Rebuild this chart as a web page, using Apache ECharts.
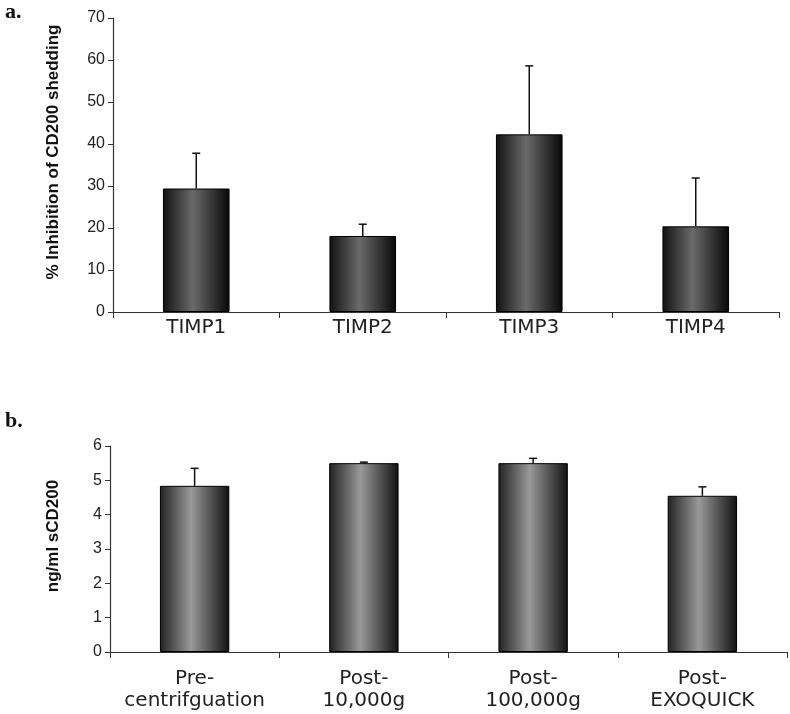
<!DOCTYPE html>
<html>
<head>
<meta charset="utf-8">
<script src="https://cdn.jsdelivr.net/npm/echarts@6/dist/echarts.min.js"></script>
<style>html,body{margin:0;padding:0;background:#fff}#c{width:790px;height:714px}</style>
</head>
<body>
<div id="c"></div>
<script>
var catsA = ['TIMP1', 'TIMP2', 'TIMP3', 'TIMP4'];
var valsA = [29.4, 18.1, 42.3, 20.4];
var errA = [8.4, 2.8, 16.3, 11.5];
var catsB = ['Pre-\ncentrifguation', 'Post-\n10,000g', 'Post-\n100,000g', 'Post-\nEXOQUICK'];
var valsB = [4.84, 5.5, 5.5, 4.55];
var errB = [0.51, 0.03, 0.14, 0.26];

var chart = echarts.init(document.getElementById('c'));

function errItem(params, api) {
  var x = api.value(0), v = api.value(1), e = api.value(2);
  var p0 = api.coord([x, v]);
  var p1 = api.coord([x, v + e]);
  var hw = 4;
  return {
    type: 'group',
    children: [
      {type: 'line', shape: {x1: p0[0], y1: p0[1], x2: p1[0], y2: p1[1]}, style: {stroke: '#111', lineWidth: 1.5}},
      {type: 'line', shape: {x1: p1[0] - hw, y1: p1[1], x2: p1[0] + hw, y2: p1[1]}, style: {stroke: '#111', lineWidth: 1.5}}
    ]
  };
}

function grad(c0, c1, c2) {
  return new echarts.graphic.LinearGradient(0, 0, 1, 0, [
    {offset: 0, color: c0}, {offset: 0.45, color: c1}, {offset: 1, color: c2}
  ]);
}

var axisLine = {show: true, lineStyle: {color: '#333', width: 1.2}};
var ylab = {color: '#222', fontFamily: 'Liberation Sans, Arial', fontSize: 16, margin: 8};
var nameStyle = {fontFamily: 'Liberation Sans, Arial', fontWeight: 'bold', fontSize: 17, color: '#111', padding: [0, 0, 0, 26]};

chart.setOption({
  animation: false,
  graphic: [
    {type: 'text', left: 5, top: 1, style: {text: 'a.', font: 'bold 22px "Liberation Serif", serif', fill: '#111'}},
    {type: 'text', left: 5, top: 410, style: {text: 'b.', font: 'bold 22px "Liberation Serif", serif', fill: '#111'}}
  ],
  grid: [
    {left: 113, right: 11, top: 18, bottom: 402},
    {left: 110, right: 3, top: 446, bottom: 62}
  ],
  xAxis: [
    {type: 'category', gridIndex: 0, data: catsA, axisLine: axisLine,
     axisTick: {show: true, length: 6, interval: 0, lineStyle: {color: '#333'}},
     axisLabel: {color: '#222', fontFamily: 'DejaVu Sans', fontSize: 20, margin: 6, interval: 0}},
    {type: 'category', gridIndex: 1, data: catsB, axisLine: axisLine,
     axisTick: {show: true, length: 6, interval: 0, lineStyle: {color: '#333'}},
     axisLabel: {color: '#222', fontFamily: 'DejaVu Sans', fontSize: 20, margin: 16, lineHeight: 22, interval: 0}}
  ],
  yAxis: [
    {type: 'value', gridIndex: 0, min: 0, max: 70, interval: 10, axisLine: axisLine,
     axisTick: {show: true, length: 5, lineStyle: {color: '#333'}}, splitLine: {show: false},
     axisLabel: ylab,
     name: '% Inhibition of CD200 shedding', nameLocation: 'middle', nameGap: 51,
     nameTextStyle: nameStyle},
    {type: 'value', gridIndex: 1, min: 0, max: 6, interval: 1, axisLine: axisLine,
     axisTick: {show: true, length: 5, lineStyle: {color: '#333'}}, splitLine: {show: false},
     axisLabel: ylab,
     name: 'ng/ml sCD200', nameLocation: 'middle', nameGap: 48,
     nameTextStyle: nameStyle}
  ],
  series: [
    {type: 'bar', xAxisIndex: 0, yAxisIndex: 0, data: valsA, barWidth: '40%',
     itemStyle: {color: grad('#111', '#6a6a6a', '#080808'), borderColor: '#000', borderWidth: 1}},
    {type: 'custom', xAxisIndex: 0, yAxisIndex: 0, renderItem: errItem, z: 1,
     data: catsA.map(function (c, i) { return [i, valsA[i], errA[i]]; })},
    {type: 'bar', xAxisIndex: 1, yAxisIndex: 1, data: valsB, barWidth: '41%',
     itemStyle: {color: grad('#222', '#999', '#111'), borderColor: '#000', borderWidth: 1}},
    {type: 'custom', xAxisIndex: 1, yAxisIndex: 1, renderItem: errItem, z: 1,
     data: catsB.map(function (c, i) { return [i, valsB[i], errB[i]]; })}
  ]
});
</script>
</body>
</html>
